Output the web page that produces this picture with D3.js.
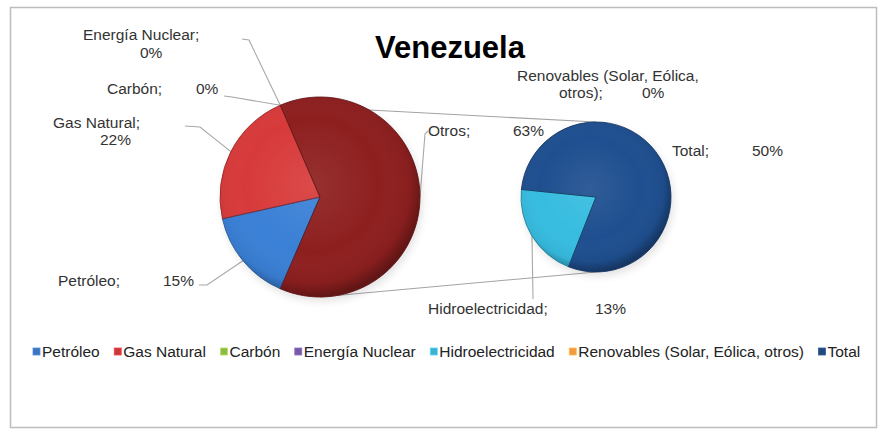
<!DOCTYPE html>
<html><head><meta charset="utf-8">
<script src="https://cdn.jsdelivr.net/npm/d3@7"></script>
<style>
html,body{margin:0;padding:0;background:#fff;}
svg{display:block;font-family:"Liberation Sans",Arial,sans-serif;}
</style>
</head><body>
<svg id="chart" width="880" height="432"></svg>
<script>
// ---------------- data ----------------
const title = "Venezuela";
const categories = ["Petróleo","Gas Natural","Carbón","Energía Nuclear","Hidroelectricidad","Renovables (Solar, Eólica, otros)","Total"];
const values = [15, 22, 0, 0, 13, 0, 50];
const secondaryCount = 3;          // last points shown in the second pie
const otherName = "Otros";
const sliceColors = ["#3a80d6","#d83a3a","#93b947","#7a5aa8","#36bce0","#f0923a","#1f4f90"];
const otherColor = "#8e1f1f";
const legendColors = ["#3f74bd","#c8383a","#8fb84a","#7459a3","#3fb0d0","#f19a3e","#234a7e"];

// ---------------- layout ----------------
const svg = d3.select("#chart");
const pie1C = {x:320, y:197, r:100};
const pie2C = {x:596, y:197, r:75};
const pie2StartDeg = 201.5;
const labelFont = 15.5;
const textColor = "#333";

// label placement (start x, baseline y); segments pick words of "name;" or the percentage
const labelLayout = {
  "Petróleo":        {segs:[{name:true,x:58,y:286},{pct:true,x:163,y:286}], leader:[[199,285],[207,285]]},
  "Gas Natural":     {segs:[{name:true,x:53,y:128},{pct:true,x:100,y:145}], leader:[[185,126],[200,127]]},
  "Carbón":          {segs:[{name:true,x:107,y:94},{pct:true,x:196,y:94}], leader:[[224,96],[232,97]]},
  "Energía Nuclear": {segs:[{name:true,x:83,y:40},{pct:true,x:140,y:58}], leader:[[242,39],[249,40]]},
  "Otros":           {segs:[{name:true,x:428,y:136},{pct:true,x:513,y:136}], leader:[[428,131],[425,134]]},
  "Hidroelectricidad":{segs:[{name:true,x:428,y:314},{pct:true,x:595,y:314}], leader:[[533,299]]},
  "Renovables (Solar, Eólica, otros)":{segs:[{words:[0,3],x:517,y:81},{words:[3],x:559,y:98},{pct:true,x:642,y:98}], leader:null},
  "Total":           {segs:[{name:true,x:672,y:156},{pct:true,x:752,y:156}], leader:null}
};

// ---------------- defs ----------------
const defs = svg.append("defs");
const shade = defs.append("radialGradient").attr("id","shade").attr("cx","0.46").attr("cy","0.44").attr("r","0.56");
[[0,"#fff",0.08],[0.6,"#fff",0],[0.88,"#000",0.05],[1,"#000",0.32]].forEach(s=>
  shade.append("stop").attr("offset",s[0]).attr("stop-color",s[1]).attr("stop-opacity",s[2]));
const blur = defs.append("filter").attr("id","blur").attr("x","-20%").attr("y","-20%").attr("width","140%").attr("height","140%");
blur.append("feGaussianBlur").attr("stdDeviation",4);

// frame
svg.append("rect").attr("x",10.5).attr("y",7.5).attr("width",866).attr("height",420)
  .attr("fill","#fff").attr("stroke","#bdbdbd").attr("stroke-width",1.5);

// title
svg.append("text").attr("x",450).attr("y",58).attr("text-anchor","middle")
  .attr("font-size",31).attr("font-weight","bold").attr("fill","#000").text(title);

// ---------------- pie data ----------------
const nMain = categories.length - secondaryCount;
const total = d3.sum(values);
const otherValue = d3.sum(values.slice(nMain));
const mainData = categories.slice(0,nMain).map((c,i)=>({name:c, value:values[i], color:sliceColors[i]}))
  .concat([{name:otherName, value:otherValue, color:otherColor}]);
const secData = categories.slice(nMain).map((c,i)=>({name:c, value:values[nMain+i], color:sliceColors[nMain+i]}));

const f = otherValue/total;
const start1 = -1.5*Math.PI + Math.PI*f;  // centers "Otros" on the right
const pie1 = d3.pie().sort(null).value(d=>d.value).startAngle(start1).endAngle(start1+2*Math.PI);
const start2 = pie2StartDeg*Math.PI/180;
const pie2 = d3.pie().sort(null).value(d=>d.value).startAngle(start2).endAngle(start2+2*Math.PI);
const arcs1 = pie1(mainData), arcs2 = pie2(secData);
const arc1 = d3.arc().innerRadius(0).outerRadius(pie1C.r);
const arc2 = d3.arc().innerRadius(0).outerRadius(pie2C.r);
const pt = (C, a, r) => [C.x + r*Math.sin(a), C.y - r*Math.cos(a)];

// series lines
const otherArc = arcs1[arcs1.length-1];
const lineG = svg.append("g").attr("stroke","#a3a3a3").attr("stroke-width",1.1).attr("fill","none");
lineG.append("path").attr("d", d3.line()([pt(pie1C, otherArc.startAngle, pie1C.r), pt(pie2C, 0, pie2C.r)]));
lineG.append("path").attr("d", d3.line()([pt(pie1C, Math.PI, pie1C.r), pt(pie2C, Math.PI, pie2C.r)]));

// leader lines (under the pies, ending at the slice edge)
const leaderG = svg.append("g").attr("stroke","#a8a8a8").attr("stroke-width",1.1).attr("fill","none");
function addLeader(d, C){
  const L = labelLayout[d.data.name];
  if(!L || !L.leader) return;
  const m = (d.startAngle + d.endAngle)/2;
  leaderG.append("path").attr("d", d3.line()(L.leader.concat([pt(C, m, C.r)])));
}
arcs1.forEach(d=>addLeader(d,pie1C));
arcs2.forEach(d=>addLeader(d,pie2C));

// pies
function drawPie(arcs, arc, C){
  const g = svg.append("g").attr("transform",`translate(${C.x},${C.y})`);
  g.append("circle").attr("cx",2).attr("cy",4).attr("r",C.r).attr("fill","#000").attr("opacity",0.12).attr("filter","url(#blur)");
  g.selectAll("path.slice").data(arcs.filter(d=>d.value>0)).join("path").attr("class","slice")
    .attr("d",arc).attr("fill",d=>d.data.color);
  g.append("circle").attr("r",C.r).attr("fill","url(#shade)");
  g.selectAll("path.edge").data(arcs.filter(d=>d.value>0)).join("path").attr("class","edge")
    .attr("d",arc).attr("fill","none").attr("stroke",d=>d3.color(d.data.color).darker(1.1)).attr("stroke-width",1).attr("stroke-linejoin","round").attr("opacity",0.85);
}
drawPie(arcs1, arc1, pie1C);
drawPie(arcs2, arc2, pie2C);

// data labels
const labG = svg.append("g").attr("font-size",labelFont).attr("fill",textColor);
function addLabel(d){
  const L = labelLayout[d.data.name];
  if(!L) return;
  const nameText = d.data.name + ";";
  const pct = Math.round(d.data.value/total*100) + "%";
  const words = nameText.split(" ");
  L.segs.forEach(s=>{
    let t = s.pct ? pct : s.words ? words.slice(s.words[0], s.words[1]).join(" ") : nameText;
    labG.append("text").attr("x",s.x).attr("y",s.y).text(t);
  });
}
arcs1.forEach(addLabel);
arcs2.forEach(addLabel);

// legend
const legG = svg.append("g").attr("font-size",labelFont).attr("fill","#222");
let lx = 33;
const legY = 357;
categories.forEach((c,i)=>{
  const g = legG.append("g");
  g.append("rect").attr("x",lx).attr("y",legY-9).attr("width",7).attr("height",7)
    .attr("fill",legendColors[i]).attr("stroke",d3.color(legendColors[i]).brighter(0.6)).attr("stroke-width",0.8);
  const t = g.append("text").attr("x",lx+9).attr("y",legY).text(c);
  lx = lx + 9 + t.node().getComputedTextLength() + 14.5;
});
</script>
</body></html>
